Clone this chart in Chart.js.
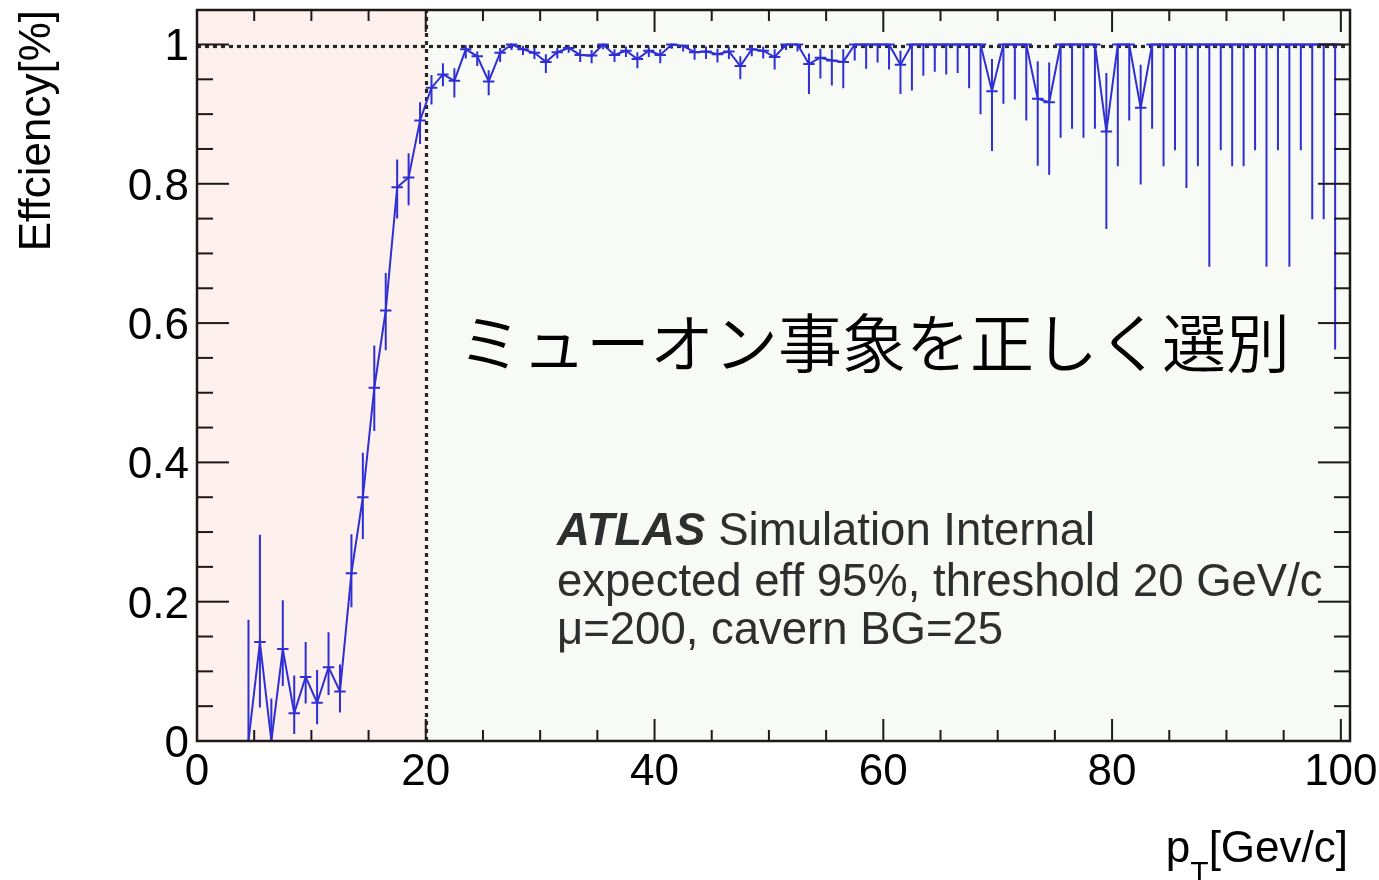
<!DOCTYPE html>
<html>
<head>
<meta charset="utf-8">
<script src="https://cdn.jsdelivr.net/npm/chart.js@4/dist/chart.umd.min.js"></script>
<style>
  html, body { margin: 0; padding: 0; background: #ffffff; }
  #wrap { width: 1379px; height: 880px; position: relative; }
</style>
</head>
<body>
<div id="wrap"><canvas id="eff" width="1379" height="880"></canvas></div>
<script>
// Bin centres in pT [GeV/c] (1 GeV bins)
const ptBins = [
  4.5, 5.5, 6.5, 7.5, 8.5, 9.5, 10.5, 11.5, 12.5, 13.5,
  14.5, 15.5, 16.5, 17.5, 18.5, 19.5, 20.5, 21.5, 22.5, 23.5,
  24.5, 25.5, 26.5, 27.5, 28.5, 29.5, 30.5, 31.5, 32.5, 33.5,
  34.5, 35.5, 36.5, 37.5, 38.5, 39.5, 40.5, 41.5, 42.5, 43.5,
  44.5, 45.5, 46.5, 47.5, 48.5, 49.5, 50.5, 51.5, 52.5, 53.5,
  54.5, 55.5, 56.5, 57.5, 58.5, 59.5, 60.5, 61.5, 62.5, 63.5,
  64.5, 65.5, 66.5, 67.5, 68.5, 69.5, 70.5, 71.5, 72.5, 73.5,
  74.5, 75.5, 76.5, 77.5, 78.5, 79.5, 80.5, 81.5, 82.5, 83.5,
  84.5, 85.5, 86.5, 87.5, 88.5, 89.5, 90.5, 91.5, 92.5, 93.5,
  94.5, 95.5, 96.5, 97.5, 98.5, 99.5
];

// Efficiency per bin
const efficiency = [
  0.000, 0.142, 0.000, 0.132, 0.040, 0.092, 0.055, 0.106, 0.071, 0.241,
  0.350, 0.507, 0.618, 0.795, 0.809, 0.891, 0.938, 0.957, 0.948, 0.993,
  0.983, 0.947, 0.988, 1.000, 0.993, 0.988, 0.975, 0.989, 0.995, 0.985,
  0.984, 1.000, 0.985, 0.991, 0.979, 0.991, 0.985, 1.000, 0.998, 0.989,
  0.990, 0.986, 0.990, 0.969, 0.993, 0.991, 0.982, 1.000, 1.000, 0.972,
  0.981, 0.977, 0.975, 1.000, 1.000, 1.000, 1.000, 0.971, 1.000, 1.000,
  1.000, 1.000, 1.000, 1.000, 1.000, 0.933, 1.000, 1.000, 1.000, 0.922,
  0.917, 1.000, 1.000, 1.000, 1.000, 0.875, 1.000, 1.000, 0.909, 1.000,
  1.000, 1.000, 1.000, 1.000, 1.000, 1.000, 1.000, 1.000, 1.000, 1.000,
  1.000, 1.000, 1.000, 1.000, 1.000, 1.000
];

// Lower edge of the asymmetric error band
const effLower = [
  0.000, 0.048, 0.000, 0.079, 0.010, 0.054, 0.024, 0.066, 0.041, 0.192,
  0.290, 0.445, 0.561, 0.750, 0.769, 0.857, 0.914, 0.940, 0.924, 0.980,
  0.969, 0.927, 0.975, 0.992, 0.985, 0.979, 0.959, 0.980, 0.988, 0.975,
  0.973, 0.993, 0.975, 0.982, 0.966, 0.982, 0.973, 0.994, 0.990, 0.978,
  0.979, 0.974, 0.979, 0.950, 0.983, 0.980, 0.964, 0.992, 0.990, 0.929,
  0.951, 0.941, 0.937, 0.977, 0.965, 0.974, 0.964, 0.929, 0.934, 0.955,
  0.961, 0.957, 0.959, 0.937, 0.900, 0.847, 0.915, 0.921, 0.891, 0.826,
  0.813, 0.866, 0.879, 0.866, 0.879, 0.735, 0.825, 0.891, 0.799, 0.879,
  0.825, 0.848, 0.794, 0.825, 0.681, 0.848, 0.825, 0.825, 0.848, 0.681,
  0.848, 0.681, 0.848, 0.749, 0.749, 0.562
];

// Upper edge of the asymmetric error band
const effUpper = [
  0.174, 0.296, 0.061, 0.202, 0.094, 0.142, 0.102, 0.156, 0.110, 0.297,
  0.414, 0.568, 0.672, 0.835, 0.844, 0.917, 0.956, 0.973, 0.966, 0.999,
  0.990, 0.963, 0.995, 1.000, 0.998, 0.995, 0.986, 0.995, 0.999, 0.993,
  0.992, 1.000, 0.993, 0.997, 0.989, 0.997, 0.993, 1.000, 1.000, 0.996,
  0.997, 0.994, 0.997, 0.983, 0.999, 0.997, 0.993, 1.000, 1.000, 0.987,
  0.994, 0.993, 0.993, 1.000, 1.000, 1.000, 1.000, 0.991, 1.000, 1.000,
  1.000, 1.000, 1.000, 1.000, 1.000, 0.979, 1.000, 1.000, 1.000, 0.976,
  0.974, 1.000, 1.000, 1.000, 1.000, 0.959, 1.000, 1.000, 0.971, 1.000,
  1.000, 1.000, 1.000, 1.000, 1.000, 1.000, 1.000, 1.000, 1.000, 1.000,
  1.000, 1.000, 1.000, 1.000, 1.000, 1.000
];

const binHalfWidth = 0.5;
const thresholdPt = 20;
const expectedPlateau = 1;

// Axis ticks and labels
const xTickValues = [0, 20, 40, 60, 80, 100];
const xTickLabels = ['0', '20', '40', '60', '80', '100'];
const yTickValues = [0, 0.2, 0.4, 0.6, 0.8, 1];
const yTickLabels = ['0', '0.2', '0.4', '0.6', '0.8', '1'];
const xMinorStep = 5;
const yMinorStep = 0.05;

const LATIN = '"Liberation Sans", Helvetica, Arial, sans-serif';
const CJK = '"Noto Sans CJK JP", "Noto Sans CJK SC", sans-serif';
const BLUE = '#2f2fd4';
const FRAME = '#1d1919';

const points = ptBins.map((p, i) => ({ x: p, y: efficiency[i] }));

// Shaded regions below and above the trigger threshold
const regionPlugin = {
  id: 'regions',
  beforeDatasetsDraw(chart) {
    const { ctx, chartArea: a, scales: { x, y } } = chart;
    const xt = x.getPixelForValue(thresholdPt);
    ctx.save();
    ctx.fillStyle = '#fdf0ed';
    ctx.fillRect(a.left, a.top, xt - a.left, a.bottom - a.top);
    ctx.fillStyle = '#f8faf5';
    ctx.fillRect(xt, a.top, a.right - xt, a.bottom - a.top);

    // dotted guide lines: plateau and threshold
    ctx.strokeStyle = '#262626';
    ctx.lineWidth = 3.2;
    ctx.setLineDash([4, 4]);
    const yp = Math.round(y.getPixelForValue(expectedPlateau) + 2) + 0.5;
    ctx.beginPath();
    ctx.moveTo(a.left, yp);
    ctx.lineTo(a.right, yp);
    ctx.stroke();
    const xtp = Math.round(xt) + 0.5;
    ctx.beginPath();
    ctx.moveTo(xtp, a.bottom);
    ctx.lineTo(xtp, a.top);
    ctx.stroke();
    ctx.restore();
  }
};

// Asymmetric error bars with bin-width horizontal markers
const errorBarPlugin = {
  id: 'errorBars',
  afterDatasetsDraw(chart) {
    const { ctx, chartArea: a, scales: { x, y } } = chart;
    ctx.save();
    ctx.beginPath();
    ctx.rect(a.left, a.top - 2, a.right - a.left, a.bottom - a.top + 6);
    ctx.clip();
    ctx.strokeStyle = BLUE;
    ctx.lineWidth = 2;
    ptBins.forEach((p, i) => {
      const px = x.getPixelForValue(p);
      const pyLo = y.getPixelForValue(effLower[i]);
      const pyHi = y.getPixelForValue(effUpper[i]);
      const py = y.getPixelForValue(efficiency[i]);
      ctx.beginPath();
      ctx.moveTo(px, pyLo);
      ctx.lineTo(px, pyHi);
      ctx.moveTo(x.getPixelForValue(p - binHalfWidth), py);
      ctx.lineTo(x.getPixelForValue(p + binHalfWidth), py);
      ctx.stroke();
    });
    ctx.restore();
  }
};

// Frame, inward ticks, labels and annotations
const framePlugin = {
  id: 'frame',
  afterDraw(chart) {
    const { ctx, chartArea: a, scales: { x, y } } = chart;
    ctx.save();
    ctx.strokeStyle = FRAME;
    ctx.lineWidth = 2.5;
    ctx.strokeRect(a.left, a.top, a.right - a.left, a.bottom - a.top);

    ctx.lineWidth = 2;
    const tick = (x0, y0, x1, y1) => { ctx.beginPath(); ctx.moveTo(x0, y0); ctx.lineTo(x1, y1); ctx.stroke(); };
    for (let v = 0; v <= x.max + 1e-9; v += xMinorStep) {
      const px = x.getPixelForValue(v);
      const len = xTickValues.includes(v) ? 22 : 11;
      tick(px, a.bottom, px, a.bottom - len);
      tick(px, a.top, px, a.top + len);
    }
    for (let k = 0; k * yMinorStep <= y.max + 1e-9; k++) {
      const v = +(k * yMinorStep).toFixed(3);
      const py = y.getPixelForValue(v);
      const major = yTickValues.some(t => Math.abs(t - v) < 1e-6);
      const len = major ? 32 : 16;
      tick(a.left, py, a.left + len, py);
      tick(a.right, py, a.right - len, py);
    }

    ctx.fillStyle = '#000000';
    ctx.font = '44px ' + LATIN;
    ctx.textAlign = 'center';
    ctx.textBaseline = 'alphabetic';
    xTickValues.forEach((v, i) => ctx.fillText(xTickLabels[i], x.getPixelForValue(v), 785));
    ctx.textAlign = 'right';
    yTickValues.forEach((v, i) => ctx.fillText(yTickLabels[i], 189, y.getPixelForValue(v) + 16));

    // x title: p_T[Gev/c], right aligned
    const right = 1348;
    const tail = '[Gev/c]';
    ctx.textAlign = 'left';
    ctx.font = '44px ' + LATIN;
    const wTail = ctx.measureText(tail).width;
    ctx.font = '30px ' + LATIN;
    const wSub = ctx.measureText('T').width;
    ctx.font = '44px ' + LATIN;
    const wP = ctx.measureText('p').width;
    let xs = right - wTail - wSub - wP;
    ctx.fillText('p', xs, 862);
    ctx.font = '30px ' + LATIN;
    ctx.fillText('T', xs + wP, 882);
    ctx.font = '44px ' + LATIN;
    ctx.fillText(tail, xs + wP + wSub, 862);

    // y title, rotated, aligned to the top of the frame
    ctx.save();
    ctx.translate(50, a.top);
    ctx.rotate(-Math.PI / 2);
    ctx.textAlign = 'right';
    ctx.fillText('Effciency[%]', 0, 0);
    ctx.restore();

    // Japanese caption
    ctx.fillStyle = '#000000';
    ctx.font = '350 64px ' + CJK;
    ctx.textAlign = 'left';
    ctx.textBaseline = 'middle';
    ctx.fillText('ミューオン事象を正しく選別', 458, 343);

    // ATLAS label block
    ctx.textBaseline = 'alphabetic';
    ctx.fillStyle = '#2e2e2e';
    ctx.font = 'italic bold 45.5px ' + LATIN;
    ctx.fillText('ATLAS', 557, 545);
    const wAtlas = ctx.measureText('ATLAS').width;
    ctx.font = '45.5px ' + LATIN;
    ctx.fillText('Simulation Internal', 557 + wAtlas + 13, 545);
    ctx.fillText('expected eff 95%, threshold 20 GeV/c', 557, 596, 766);
    ctx.fillText('\u03bc=200, cavern BG=25', 557, 644);
    ctx.restore();
  }
};

new Chart(document.getElementById('eff'), {
  type: 'line',
  data: {
    datasets: [{
      data: points,
      borderColor: BLUE,
      borderWidth: 2,
      pointRadius: 0,
      tension: 0,
      fill: false
    }]
  },
  options: {
    responsive: false,
    animation: false,
    devicePixelRatio: 1,
    layout: { padding: { left: 197, right: 29, top: 10, bottom: 139 } },
    plugins: { legend: { display: false }, tooltip: { enabled: false } },
    scales: {
      x: { type: 'linear', min: 0, max: 100.8, display: false },
      y: { type: 'linear', min: 0, max: 1.0495, display: false }
    }
  },
  plugins: [regionPlugin, errorBarPlugin, framePlugin]
});
</script>
</body>
</html>
